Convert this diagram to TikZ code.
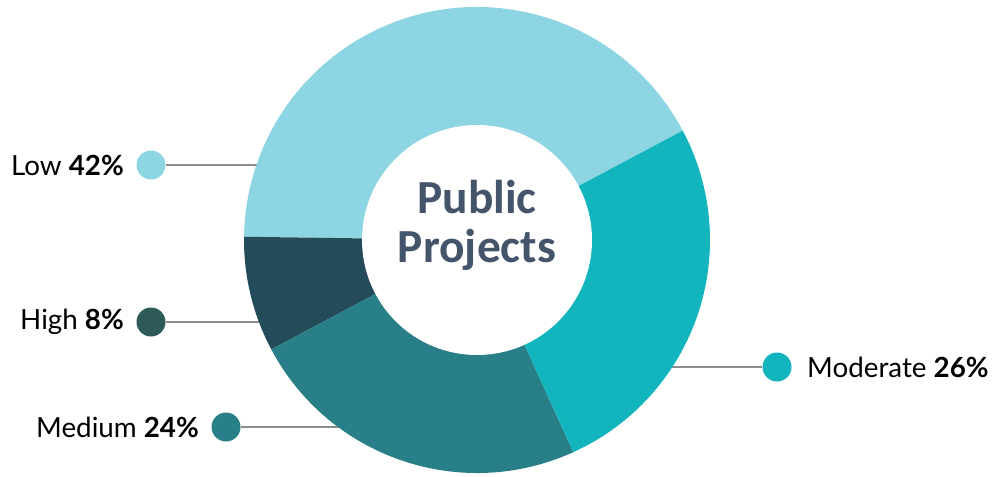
\documentclass[tikz,border=0pt]{standalone}
\usepackage{fontspec}
\setmainfont{Lato}
\newfontfamily\titlefont{Carlito}
\usetikzlibrary{positioning}
\definecolor{lowc}{HTML}{8DD5E3}
\definecolor{highc}{HTML}{234B5A}
\definecolor{medc}{HTML}{287F88}
\definecolor{modc}{HTML}{12B5BD}
\definecolor{highdot}{HTML}{2F5A5A}
\definecolor{titlec}{HTML}{44546A}
\definecolor{leadgray}{HTML}{8C8C8C}
\tikzset{
  dot/.style={circle,fill=#1,minimum size=0.58cm,inner sep=0pt},
  lbl/.style={inner sep=0pt,font=\fontsize{15.8}{18}\selectfont},
  leader/.style={draw=leadgray,line width=1.1pt}
}
\begin{document}
\begin{tikzpicture}
      \useasboundingbox (0,0) rectangle (19.9,9.52);
      \coordinate (c) at (9.54,4.72);

        % dots and labels
        \node[dot=lowc] (d1) at (3.02,6.22) {};
        \node[dot=highdot] (d2) at (3.02,3.08) {};
        \node[dot=medc] (d3) at (4.52,0.98) {};
        \node[dot=modc] (d4) at (15.54,2.18) {};

        \node[lbl,left=0.24cm of d1] (l1) {Low \textbf{42\%}};
        \node[lbl,left=0.24cm of d2] (l2) {High \textbf{8\%}};
        \node[lbl,left=0.24cm of d3] (l3) {Medium \textbf{24\%}};
        \node[lbl,right=0.3cm of d4] (l4) {Moderate \textbf{26\%}};

        \coordinate (e1) at (5.4,6.22);
        \coordinate (e2) at (5.4,3.08);
        \coordinate (e3) at (7.0,0.98);
        \coordinate (e4) at (13.2,2.18);

        \draw[leader] (d1.east) -- (e1);
        \draw[leader] (d2.east) -- (e2);
        \draw[leader] (d3.east) -- (e3);
        \draw[leader] (d4.west) -- (e4);

        % donut
        \fill[lowc] (c) -- ++(28:4.66) arc (28:179.2:4.66) -- cycle;
        \fill[highc] (c) -- ++(179.2:4.66) arc (179.2:208:4.66) -- cycle;
        \fill[medc] (c) -- ++(208:4.66) arc (208:294.4:4.66) -- cycle;
        \fill[modc] (c) -- ++(294.4:4.66) arc (294.4:388:4.66) -- cycle;
        \fill[white] (c) circle (2.3);

        \node[font=\titlefont\bfseries\fontsize{27}{28}\selectfont,text=titlec,align=center] (title) at (9.54,5.02) {Public\\Projects};

    \end{tikzpicture}
\end{document}
